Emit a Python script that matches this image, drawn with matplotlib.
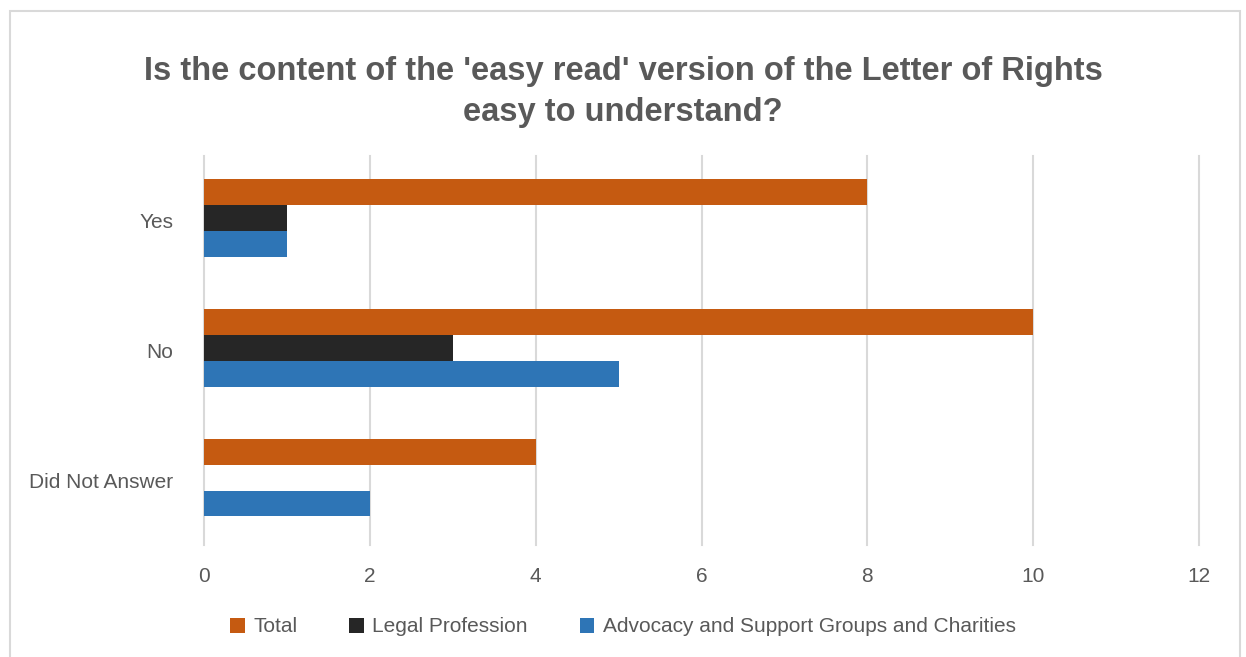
import matplotlib.pyplot as plt
import matplotlib.patches as mpatches
import numpy as np

plt.rcParams['font.family'] = ['Liberation Sans Narrow', 'Liberation Sans', 'DejaVu Sans']

categories = ['Yes', 'No', 'Did Not Answer']
series = ['Total', 'Legal Profession', 'Advocacy and Support Groups and Charities']
total = [8, 10, 4]
legal = [1, 3, 0]
advocacy = [1, 5, 2]
colors = ['#c55a11', '#262626', '#2e75b6']

text_gray = '#595959'
grid_gray = '#d9d9d9'

W, H = 1246, 657
fig = plt.figure(figsize=(W / 100, H / 100), dpi=100)

# outer chart border
fig.patches.append(mpatches.Rectangle((10 / W, -0.01), 1230 / W, 1 - 11 / H + 0.01,
                                      transform=fig.transFigure, fill=False,
                                      edgecolor='#d9d9d9', linewidth=1.5))

ax = fig.add_axes([204 / W, 1 - 545 / H, (1199 - 204) / W, (545 - 156) / H])

y = np.arange(len(categories))
h = 0.2
for k, (vals, name) in enumerate(zip([total, legal, advocacy], series)):
    ax.barh(y + (k - 1) * h - 0.02, vals, height=h, color=colors[k], label=name, zorder=3)

ax.set_xlim(0, 12)
ax.set_ylim(2.5, -0.5)
ax.set_xticks(range(0, 13, 2))
ax.set_yticks(y)
ax.set_yticklabels(categories)
ax.tick_params(axis='both', length=0, labelsize=15, labelcolor=text_gray)
ax.tick_params(axis='x', pad=16)
ax.tick_params(axis='y', pad=22)
ax.grid(axis='x', color=grid_gray, linewidth=1.5, zorder=0)
ax.grid(axis='y', visible=False)
for gl in ax.get_xgridlines():
    gl.set_clip_on(False)
for s in ax.spines.values():
    s.set_visible(False)

fig.text(0.5, 1 - 92 / H, "Is the content of the 'easy read' version of the Letter of Rights\neasy to understand?",
         ha='center', va='center', fontsize=23.5, fontweight='bold', color=text_gray, linespacing=1.45)

fig.legend(loc='center', bbox_to_anchor=(0.5, 1 - 627 / H), ncol=3, frameon=False,
           fontsize=15, labelcolor=text_gray, handlelength=0.7, handleheight=0.7,
           columnspacing=2.5, handletextpad=0.4)

fig.savefig('out.png', dpi=100)
